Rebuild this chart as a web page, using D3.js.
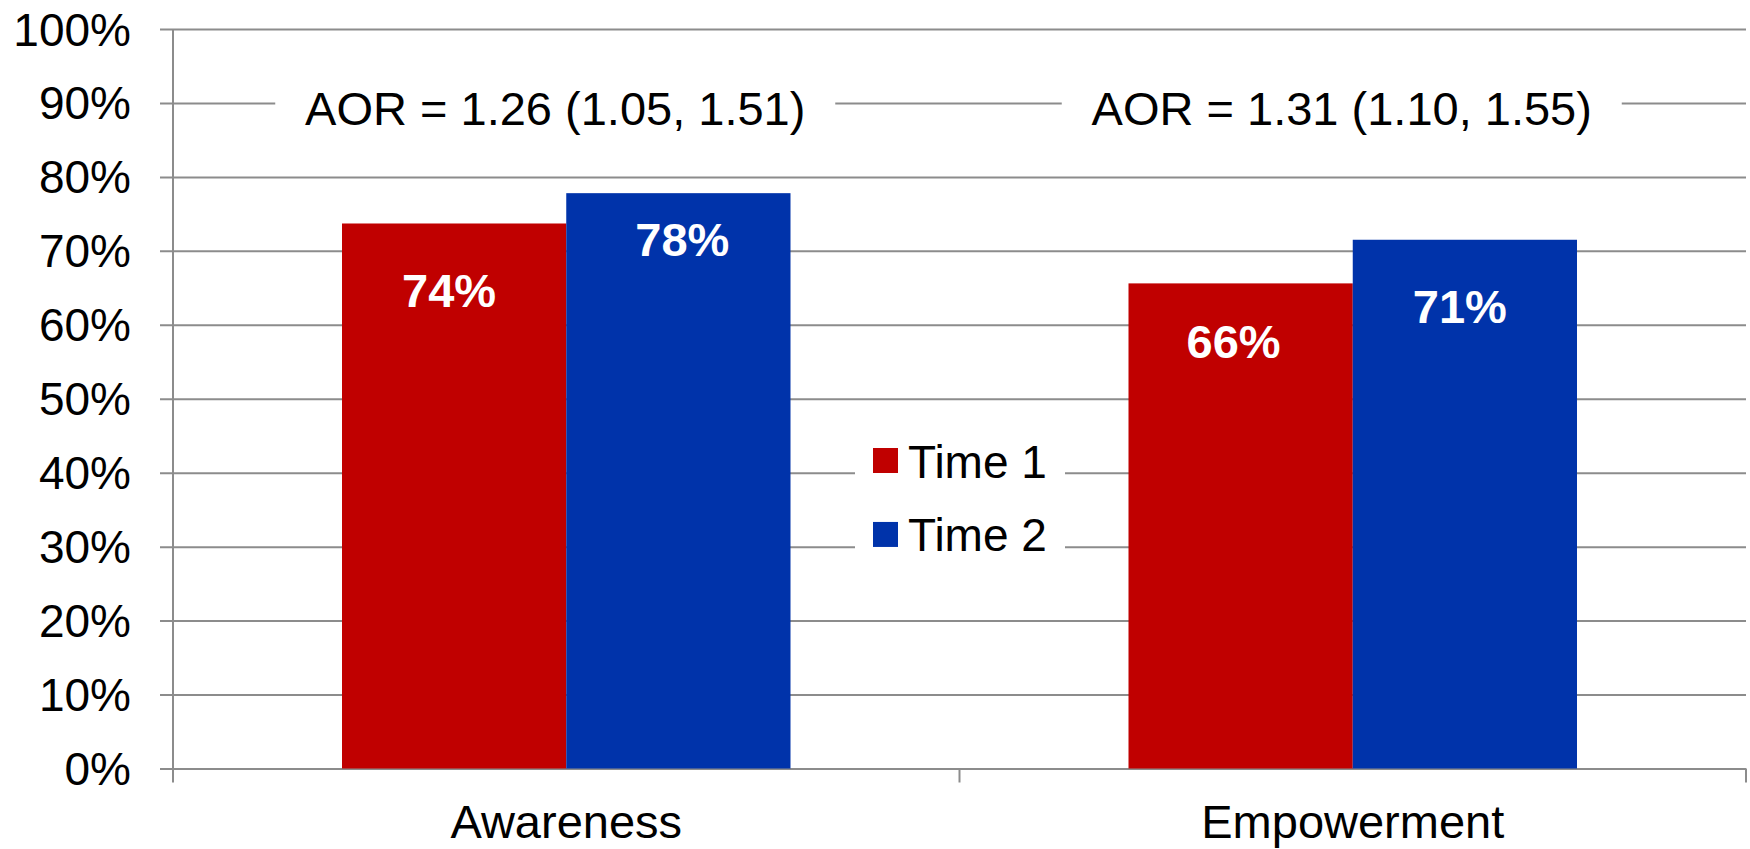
<!DOCTYPE html>
<html>
<head>
<meta charset="utf-8">
<script src="https://cdn.jsdelivr.net/npm/d3@7"></script>
<style>
  html, body { margin: 0; padding: 0; background: #fff; }
  svg { display: block; font-family: "Liberation Sans", Arial, sans-serif; }
</style>
</head>
<body>
<svg id="chart" width="1750" height="849"></svg>
<script>
// ---- data ----
const categories = ["Awareness", "Empowerment"];
const seriesNames = ["Time 1", "Time 2"];
const time1Values = [0.737, 0.656];
const time2Values = [0.778, 0.715];
const time1Labels = ["74%", "66%"];
const time2Labels = ["78%", "71%"];
const aorLabels = ["AOR = 1.26 (1.05, 1.51)", "AOR = 1.31 (1.10, 1.55)"];
const yTicks = [0, 0.1, 0.2, 0.3, 0.4, 0.5, 0.6, 0.7, 0.8, 0.9, 1.0];

// ---- layout / style ----
const M = { left: 173, right: 1746, top: 29, bottom: 768.5 };
const colors = ["#C00000", "#0033AA"];
const gridColor = "#8c8c8c";
const labelNudge = [[84, 63], [75, 83]]; // data-label baseline below bar top
const labelShift = [[-5, 4], [-7, -5]];  // small horizontal nudges of data labels

const svg = d3.select("#chart");

const x0 = d3.scaleBand().domain(categories).range([M.left, M.right]).padding(0);
const bw = x0.bandwidth();
const x1 = d3.scaleBand().domain(seriesNames).range([169, bw - 169]).padding(0);
const y = d3.scaleLinear().domain([0, 1]).range([M.bottom, M.top]);

const rows = categories.map((c, i) => ({
  cat: c, i,
  vals: [time1Values[i], time2Values[i]],
  labels: [time1Labels[i], time2Labels[i]]
}));

// gridlines via d3 axis
const gridLen = M.right - M.left + 13;
const yAxis = d3.axisLeft(y).tickValues(yTicks).tickSize(gridLen).tickFormat("");
const gy = svg.append("g").attr("transform", `translate(${M.right},0)`).call(yAxis);
gy.select(".domain").remove();
gy.selectAll(".tick line").attr("stroke", gridColor).attr("stroke-width", 2);

// tick labels
svg.append("g").selectAll("text").data(yTicks).join("text")
  .attr("x", 131).attr("y", d => y(d) + 16.5)
  .attr("text-anchor", "end").attr("font-size", 46).attr("fill", "#000")
  .text(d => d3.format(".0%")(d));

// y axis line
svg.append("line").attr("x1", M.left).attr("x2", M.left).attr("y1", y(1)).attr("y2", M.bottom + 14)
  .attr("stroke", gridColor).attr("stroke-width", 2);

// x axis ticks (category boundaries)
const boundaries = categories.map(c => x0(c) + bw);
svg.append("g").selectAll("line").data(boundaries).join("line")
  .attr("x1", d => d).attr("x2", d => d).attr("y1", M.bottom).attr("y2", M.bottom + 14)
  .attr("stroke", gridColor).attr("stroke-width", 2);

// bars
const groups = svg.append("g").selectAll("g").data(rows).join("g")
  .attr("transform", d => `translate(${x0(d.cat)},0)`);
groups.selectAll("rect").data(d => d.vals.map((v, k) => ({ v, k }))).join("rect")
  .attr("x", d => x1(seriesNames[d.k]))
  .attr("width", x1.bandwidth())
  .attr("y", d => y(d.v))
  .attr("height", d => M.bottom - y(d.v))
  .attr("fill", d => colors[d.k]);

// data labels
groups.selectAll("text.dl").data(d => d.vals.map((v, k) => ({ v, k, lab: d.labels[k], i: d.i }))).join("text")
  .attr("class", "dl")
  .attr("x", d => x1(seriesNames[d.k]) + x1.bandwidth() / 2 + labelShift[d.i][d.k])
  .attr("y", d => y(d.v) + labelNudge[d.i][d.k])
  .attr("text-anchor", "middle").attr("font-size", 47).attr("font-weight", "bold").attr("fill", "#fff")
  .text(d => d.lab);

// x category labels
svg.append("g").selectAll("text").data(categories).join("text")
  .attr("x", d => x0(d) + bw / 2)
  .attr("y", 838)
  .attr("text-anchor", "middle").attr("font-size", 47).attr("fill", "#000")
  .text(d => d);

// AOR annotations with white background
const aor = svg.append("g").selectAll("g").data(categories).join("g")
  .attr("transform", d => `translate(${x0(d) + bw / 2 - 11},0)`);
aor.append("rect")
  .attr("x", -280).attr("width", 560)
  .attr("y", y(0.9) - 22).attr("height", 50)
  .attr("fill", "#fff");
aor.append("text")
  .attr("x", 0).attr("y", 125)
  .attr("text-anchor", "middle").attr("font-size", 47).attr("fill", "#000")
  .text((d, i) => aorLabels[i]);

// legend
const lg = svg.append("g");
lg.append("rect").attr("x", 855).attr("y", 415).attr("width", 210).attr("height", 165).attr("fill", "#fff");
const li = lg.selectAll("g").data(seriesNames).join("g")
  .attr("transform", (d, i) => `translate(873,${y(0.4) - 24.7 + i * (y(0.3) - y(0.4))})`);
li.append("rect").attr("x", 0).attr("y", 0).attr("width", 25).attr("height", 25)
  .attr("fill", (d, i) => colors[i]);
li.append("text").attr("x", 35).attr("y", 29.5)
  .attr("font-size", 46).attr("fill", "#000").text(d => d);
</script>
</body>
</html>
